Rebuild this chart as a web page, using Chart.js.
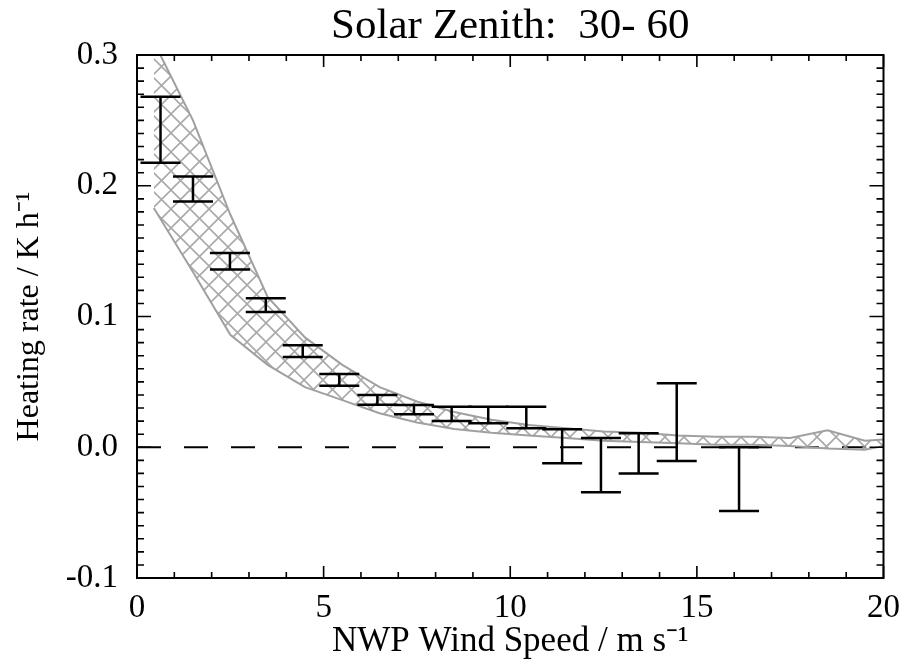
<!DOCTYPE html>
<html>
<head>
<meta charset="utf-8">
<script src="https://cdn.jsdelivr.net/npm/chart.js@4/dist/chart.umd.min.js"></script>
<style>
  body { margin: 0; background: #fff; }
  canvas { display: block; }
</style>
</head>
<body>
<canvas id="heatGraph" width="903" height="659"></canvas>
<script>
// shaded band (model spread), sampled at bin centres
var bandX    = [0.45, 1.5, 2.5, 3.5, 4.5, 5.5, 6.5, 7.5, 8.5, 9.5, 10.5, 11.5, 12.5, 13.5, 14.5, 15.5, 16.5, 17.5, 18.5, 19.5, 20];
var bandHigh = [0.31, 0.250, 0.178, 0.115, 0.084, 0.063, 0.046, 0.035, 0.027, 0.021, 0.017, 0.0145, 0.012, 0.011, 0.009, 0.008, 0.008, 0.007, 0.013, 0.005, 0.006];
var bandLow  = [0.183, 0.134, 0.086, 0.063, 0.046, 0.036, 0.026, 0.019, 0.014, 0.011, 0.009, 0.007, 0.005, 0.004, 0.003, 0.002, 0.002, 0.001, -0.001, -0.002, 0.001];

// observed error bars
var errX    = [0.63, 1.5, 2.49, 3.45, 4.44, 5.42, 6.44, 7.42, 8.43, 9.41, 10.43, 11.39, 12.43, 13.44, 14.46, 16.13];
var errHigh = [0.268, 0.207, 0.1485, 0.114, 0.078, 0.056, 0.040, 0.0324, 0.031, 0.031, 0.031, 0.0138, 0.007, 0.0107, 0.049, 0.0];
var errLow  = [0.2175, 0.188, 0.136, 0.1034, 0.069, 0.047, 0.0326, 0.0253, 0.020, 0.0184, 0.0145, -0.0123, -0.0345, -0.020, -0.0105, -0.0488];

var zeroX = [0, 20];

function pts(xs, ys) {
    var out = [];
    for (var i = 0; i < xs.length; i++) out.push({x: xs[i], y: ys[i]});
    return out;
}

function hatch() {
    var s = 19;
    var c = document.createElement('canvas');
    c.width = s; c.height = s;
    var g = c.getContext('2d');
    g.strokeStyle = 'rgba(160,160,160,0.9)';
    g.lineWidth = 1.6;
    g.beginPath();
    g.moveTo(0, s); g.lineTo(s, 0);
    g.moveTo(-2, 2); g.lineTo(2, -2);
    g.moveTo(s - 2, s + 2); g.lineTo(s + 2, s - 2);
    g.moveTo(0, 0); g.lineTo(s, s);
    g.moveTo(-2, s - 2); g.lineTo(2, s + 2);
    g.moveTo(s - 2, -2); g.lineTo(s + 2, 2);
    g.stroke();
    return g.createPattern(c, 'repeat');
}

var serif = 'Liberation Serif';

// error bars with fixed-width caps
var errorBars = {
    id: 'errorBars',
    afterDatasetsDraw: function(chart) {
        var ctx = chart.ctx, xs = chart.scales.x, ys = chart.scales.y;
        ctx.save();
        ctx.strokeStyle = '#000';
        ctx.lineWidth = 2.5;
        for (var i = 0; i < errX.length; i++) {
            var px = xs.getPixelForValue(errX[i]);
            var pt = ys.getPixelForValue(errHigh[i]);
            var pb = ys.getPixelForValue(errLow[i]);
            ctx.beginPath();
            ctx.moveTo(px, pt); ctx.lineTo(px, pb);
            ctx.moveTo(px - 20, pt); ctx.lineTo(px + 20, pt);
            ctx.moveTo(px - 20, pb); ctx.lineTo(px + 20, pb);
            ctx.stroke();
        }
        ctx.restore();
    }
};

// box frame with inward ticks on all four sides
var frameTicks = {
    id: 'frameTicks',
    afterDraw: function(chart) {
        var ctx = chart.ctx, a = chart.chartArea, xs = chart.scales.x, ys = chart.scales.y;
        ctx.save();
        ctx.strokeStyle = '#000';
        ctx.lineWidth = 2;
        ctx.strokeRect(a.left, a.top, a.right - a.left, a.bottom - a.top);
        ctx.lineWidth = 1.6;
        ctx.beginPath();
        for (var v = 0; v <= 20; v++) {
            var px = xs.getPixelForValue(v);
            var len = (v % 5 === 0) ? 12 : 6;
            ctx.moveTo(px, a.bottom); ctx.lineTo(px, a.bottom - len);
            ctx.moveTo(px, a.top); ctx.lineTo(px, a.top + len);
        }
        for (var k = -10; k <= 30; k++) {
            var py = ys.getPixelForValue(k / 100);
            var l2 = (k % 10 === 0) ? 14 : 7;
            ctx.moveTo(a.left, py); ctx.lineTo(a.left + l2, py);
            ctx.moveTo(a.right, py); ctx.lineTo(a.right - l2, py);
        }
        ctx.stroke();
        ctx.restore();
    }
};

var heatConfig = {
    type: 'line',
    data: {
        datasets: [{
            data: pts(bandX, bandLow),
            borderColor: 'rgba(160,160,160,1)',
            borderWidth: 2,
            pointRadius: 0,
            fill: false,
            tension: 0
        }, {
            data: pts(bandX, bandHigh),
            borderColor: 'rgba(160,160,160,1)',
            borderWidth: 2,
            pointRadius: 0,
            fill: '-1',
            backgroundColor: hatch(),
            tension: 0
        }, {
            data: pts(zeroX, [0, 0]),
            borderColor: '#000',
            borderWidth: 2,
            borderDash: [24, 23],
            pointRadius: 0,
            fill: false
        }]
    },
    options: {
        responsive: false,
        animation: false,
        layout: { padding: { left: 0, right: 15, top: 0, bottom: 0 } },
        plugins: {
            legend: { display: false },
            tooltip: { enabled: false }
        },
        scales: {
            x: {
                type: 'linear',
                position: 'bottom',
                min: 0, max: 20,
                grid: { display: false },
                border: { display: false },
                ticks: {
                    stepSize: 5,
                    padding: 3,
                    color: '#000',
                    font: { family: serif, size: 33 }
                },
                title: {
                    display: true,
                    text: 'NWP Wind Speed / m s\u207B\u00B9',
                    color: '#000',
                    padding: { top: 0, bottom: -4 },
                    font: { family: serif, size: 35 }
                },
                afterFit: function(s) { s.height = 81; }
            },
            xTop: {
                type: 'linear',
                position: 'top',
                min: 0, max: 20,
                grid: { display: false },
                border: { display: false },
                ticks: { display: false },
                title: {
                    display: true,
                    text: 'Solar Zenith:  30- 60',
                    color: '#000',
                    padding: { top: 1, bottom: 0 },
                    font: { family: serif, size: 43 }
                },
                afterFit: function(s) { s.height = 55; }
            },
            y: {
                min: -0.1, max: 0.3,
                grid: { display: false },
                border: { display: false },
                ticks: {
                    stepSize: 0.1,
                    padding: 11,
                    color: '#000',
                    font: { family: serif, size: 33 },
                    callback: function(v) { return v.toFixed(1); }
                },
                title: {
                    display: true,
                    text: 'Heating rate / K h\u207B\u00B9',
                    color: '#000',
                    padding: { top: 10, bottom: 0 },
                    font: { family: serif, size: 32 }
                },
                afterFit: function(s) { s.width = 137; }
            }
        }
    },
    plugins: [errorBars, frameTicks]
};

var heatCtx = document.getElementById('heatGraph');
var heatChart = new Chart(heatCtx, heatConfig);
</script>
</body>
</html>
